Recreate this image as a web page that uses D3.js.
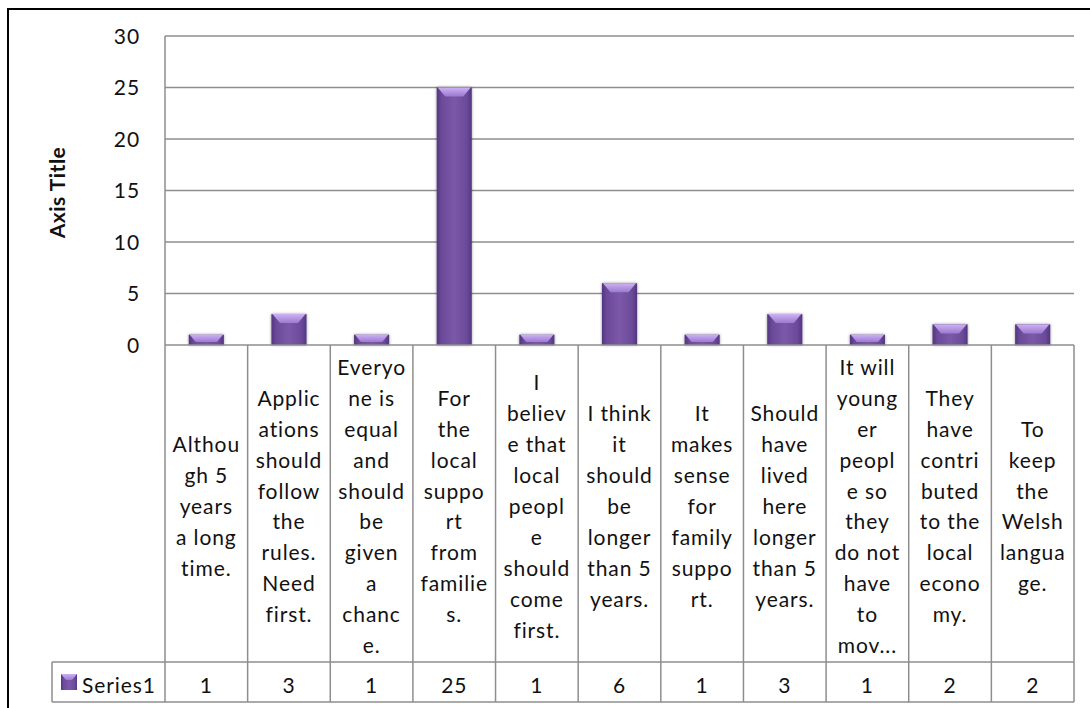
<!DOCTYPE html>
<html>
<head>
<meta charset="utf-8">
<script src="https://cdn.jsdelivr.net/npm/d3@7/dist/d3.min.js"></script>
<style>
  html, body { margin: 0; padding: 0; background: #ffffff; }
  svg { display: block; }
  text { font-family: Lato, "Open Sans", sans-serif; fill: #111; }
</style>
</head>
<body>
<svg id="chart" width="1090" height="708"></svg>
<script>
// Survey answers: one category per reason given
const categories = [
  "Although 5 years a long time.",
  "Applications should follow the rules. Need first.",
  "Everyone is equal and should be given a chance.",
  "For the local support from families.",
  "I believe that local people should come first.",
  "I think it should be longer than 5 years.",
  "It makes sense for family support.",
  "Should have lived here longer than 5 years.",
  "It will younger people so they do not have to mov...",
  "They have contributed to the local economy.",
  "To keep the Welsh language."
];

// Wrapped lines as they appear in the data table cells
const categoryLines = [
  ["Althou", "gh 5", "years", "a long", "time."],
  ["Applic", "ations", "should", "follow", "the", "rules.", "Need", "first."],
  ["Everyo", "ne is", "equal", "and", "should", "be", "given", "a", "chanc", "e."],
  ["For", "the", "local", "suppo", "rt", "from", "familie", "s."],
  ["I", "believ", "e that", "local", "peopl", "e", "should", "come", "first."],
  ["I think", "it", "should", "be", "longer", "than 5", "years."],
  ["It", "makes", "sense", "for", "family", "suppo", "rt."],
  ["Should", "have", "lived", "here", "longer", "than 5", "years."],
  ["It will", "young", "er", "peopl", "e so", "they", "do not", "have", "to", "mov..."],
  ["They", "have", "contri", "buted", "to the", "local", "econo", "my."],
  ["To", "keep", "the", "Welsh", "langua", "ge."]
];

const seriesName = "Series1";
const series1 = [1, 3, 1, 25, 1, 6, 1, 3, 1, 2, 2];

const yTicks = [0, 5, 10, 15, 20, 25, 30];
const axisTitle = "Axis Title";

const svg = d3.select("#chart");

// Plot and table geometry
const plotLeft = 165, plotRight = 1074, plotTop = 36, plotBottom = 345;
const labelBottom = 662, tableBottom = 702, legendLeft = 52;
const gridColor = "#8e8e8e";
const fontSize = 21, spacing = 0.9;

const x = d3.scaleBand().domain(categories).range([plotLeft, plotRight]).padding(0);
const y = d3.scaleLinear().domain([0, 30]).range([plotBottom, plotTop]);

// Defs: bar body gradient, bevel gradient, soft shadow
const defs = svg.append("defs");
const body = defs.append("linearGradient").attr("id", "barBody")
  .attr("x1", "0%").attr("x2", "100%").attr("y1", "0%").attr("y2", "0%");
[["0%", "#523680"], ["14%", "#6b4a99"], ["50%", "#7b59a8"], ["86%", "#6b4a99"], ["100%", "#523680"]]
  .forEach(([o, c]) => body.append("stop").attr("offset", o).attr("stop-color", c));

const bevel = defs.append("linearGradient").attr("id", "barBevel")
  .attr("x1", "0%").attr("x2", "0%").attr("y1", "0%").attr("y2", "100%");
[["0%", "#cdb1f3"], ["100%", "#9b7ad0"]]
  .forEach(([o, c]) => bevel.append("stop").attr("offset", o).attr("stop-color", c));

const shadow = defs.append("filter").attr("id", "barShadow")
  .attr("x", "-30%").attr("y", "-30%").attr("width", "160%").attr("height", "160%");
shadow.append("feDropShadow").attr("dx", 0).attr("dy", 0).attr("stdDeviation", 1.6)
  .attr("flood-color", "#000").attr("flood-opacity", 0.4);

// Chart frame
svg.append("rect").attr("x", 8).attr("y", 9).attr("width", 1100).attr("height", 720)
  .attr("fill", "none").attr("stroke", "#000").attr("stroke-width", 2);

// Horizontal gridlines
svg.append("g").selectAll("line").data(yTicks.filter(d => d > 0)).join("line")
  .attr("x1", plotLeft).attr("x2", plotRight)
  .attr("y1", d => y(d)).attr("y2", d => y(d))
  .attr("stroke", gridColor).attr("stroke-width", 1.5);

// Value axis labels
svg.append("g").selectAll("text").data(yTicks).join("text")
  .attr("x", 140).attr("y", d => y(d)).attr("dy", "0.36em")
  .attr("text-anchor", "end").attr("font-size", fontSize).attr("letter-spacing", spacing)
  .text(d => d);

// Axis title
svg.append("text")
  .attr("transform", `translate(65,${(plotTop + plotBottom) / 2 + 2}) rotate(-90)`)
  .attr("text-anchor", "middle").attr("font-size", 21).attr("font-weight", "bold")
  .attr("letter-spacing", 0.5)
  .text(axisTitle);

// Bars
const barW = x.bandwidth() * 0.425;
const bars = svg.append("g").selectAll("g").data(series1).join("g")
  .attr("filter", "url(#barShadow)");
bars.append("rect")
  .attr("x", (d, i) => x(categories[i]) + (x.bandwidth() - barW) / 2)
  .attr("y", d => y(d))
  .attr("width", barW)
  .attr("height", d => y(0) - y(d))
  .attr("fill", "url(#barBody)");
bars.append("path")
  .attr("d", (d, i) => {
    const x0 = x(categories[i]) + (x.bandwidth() - barW) / 2;
    const top = y(d);
    const depth = Math.min(9, (y(0) - y(d)) - 3);
    const inset = depth * 0.95;
    return `M${x0 + 1},${top} L${x0 + barW - 1},${top} L${x0 + barW - inset},${top + depth} L${x0 + inset},${top + depth} Z`;
  })
  .attr("fill", "url(#barBevel)");

// Plot left edge and category axis line
svg.append("line").attr("x1", plotLeft).attr("x2", plotLeft).attr("y1", plotTop).attr("y2", tableBottom)
  .attr("stroke", gridColor).attr("stroke-width", 1.5);

// Data table grid
const tbl = svg.append("g").attr("stroke", gridColor).attr("stroke-width", 1.5);
tbl.append("line").attr("x1", plotLeft).attr("x2", plotRight).attr("y1", plotBottom).attr("y2", plotBottom);
tbl.append("line").attr("x1", legendLeft).attr("x2", plotRight).attr("y1", labelBottom).attr("y2", labelBottom);
tbl.append("line").attr("x1", legendLeft).attr("x2", plotRight).attr("y1", tableBottom).attr("y2", tableBottom);
tbl.append("line").attr("x1", legendLeft).attr("x2", legendLeft).attr("y1", labelBottom).attr("y2", tableBottom);
tbl.selectAll("line.col").data(categories).join("line").attr("class", "col")
  .attr("x1", d => x(d) + x.bandwidth()).attr("x2", d => x(d) + x.bandwidth())
  .attr("y1", plotBottom).attr("y2", tableBottom);

// Category labels in the table
const lineGap = 30.9;
const labelMid = 514;
const labelG = svg.append("g");
categories.forEach((c, i) => {
  const lines = categoryLines[i];
  const t = labelG.append("text")
    .attr("text-anchor", "middle").attr("font-size", fontSize).attr("letter-spacing", spacing);
  lines.forEach((ln, j) => {
    t.append("tspan")
      .attr("x", x(c) + x.bandwidth() / 2)
      .attr("y", labelMid + (j - (lines.length - 1) / 2) * lineGap)
      .text(ln);
  });
});

// Values row
svg.append("g").selectAll("text").data(series1).join("text")
  .attr("x", (d, i) => x(categories[i]) + x.bandwidth() / 2)
  .attr("y", 693)
  .attr("text-anchor", "middle").attr("font-size", fontSize).attr("letter-spacing", spacing)
  .text(d => d);

// Legend key in the table
const key = svg.append("g");
key.append("rect").attr("x", 61).attr("y", 674).attr("width", 16).attr("height", 16)
  .attr("fill", "url(#barBody)");
key.append("path").attr("d", "M61,674 L77,674 L72,680 L66,680 Z").attr("fill", "url(#barBevel)");
key.append("text").attr("x", 82).attr("y", 693).attr("font-size", fontSize).attr("letter-spacing", spacing)
  .text(seriesName);
</script>
</body>
</html>
